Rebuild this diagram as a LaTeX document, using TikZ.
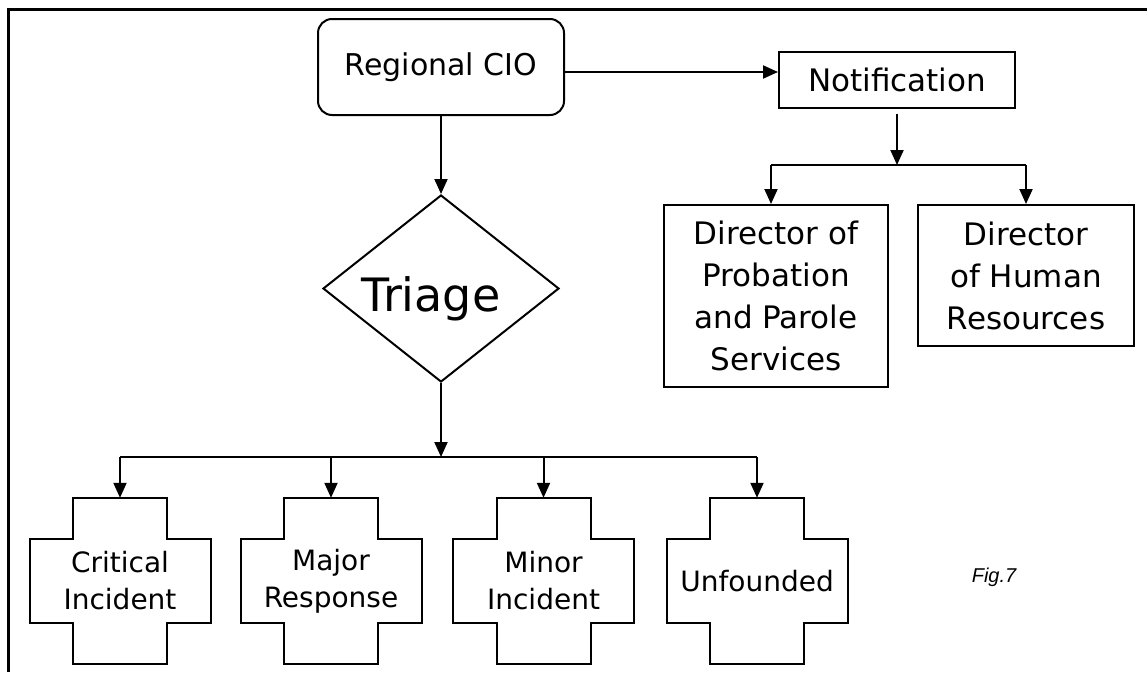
\documentclass[tikz,border=0pt]{standalone}
\usepackage{fontspec}
\setmainfont{DejaVu Sans}
\newfontfamily\captionfont{Liberation Sans}
\usetikzlibrary{shapes.geometric,arrows.meta}

\tikzset{
  box/.style={draw, line width=2pt, inner sep=0pt, align=center},
  arr/.style={line width=2pt, -{Triangle[length=15pt,width=13pt]}},
  link/.style={line width=2pt},
  crosstext/.style={inner sep=0pt, minimum width=181pt, minimum height=166pt,
    align=center, font=\fontsize{28}{37}\selectfont},
  outline/.style={line width=2pt, line join=miter},
}

\begin{document}
\begin{tikzpicture}[x=1pt,y=-1pt]
\useasboundingbox (0,0) rectangle (1147,672);

% page frame (top and left edges)
\draw[line width=3pt] (8,672) -- (8,9) -- (1147,9);

% upper boxes
\node[box, rounded corners=14pt, minimum width=246pt, minimum height=96pt,
      font=\fontsize{30}{36}\selectfont] (cio) at (441,67) {Regional CIO};
\node[box, minimum width=236pt, minimum height=56pt,
      font=\fontsize{31}{36}\selectfont] (notif) at (897,80) {Notification};
\node[box, minimum width=224pt, minimum height=182pt,
      font=\fontsize{31}{42}\selectfont] (dpp) at (776,296)
      {Director of\\Probation\\and Parole\\Services};
\node[box, minimum width=216pt, minimum height=141pt,
      font=\fontsize{31}{42}\selectfont] (dhr) at (1026,275.5)
      {Director\\of Human\\Resources};

% decision diamond
\node[draw, diamond, line width=2pt, minimum width=236pt, minimum height=187pt,
      inner sep=0pt] (triage) at (441,288.5) {};
\node[inner sep=0pt, font=\fontsize{46}{50}\selectfont] (triagetext) at (431,299) {Triage};

% outcome crosses
\node[crosstext] (c1) at (120,581) {Critical\\Incident};
\node[crosstext] (c2) at (331,581) {Major\\Response};
\node[crosstext] (c3) at (543.5,581) {Minor\\Incident};
\node[crosstext] (c4) at (757,581) {Unfounded};
\foreach \c in {c1,c2,c3,c4}{
  \draw[outline] ([shift={(-47,-83)}]\c.center) -- ++(94,0) -- ++(0,41)
    -- ++(43.5,0) -- ++(0,84) -- ++(-43.5,0) -- ++(0,41) -- ++(-94,0)
    -- ++(0,-41) -- ++(-43.5,0) -- ++(0,-84) -- ++(43.5,0) -- cycle;
}

% connectors
\coordinate (cioout) at ([yshift=-5pt]cio.east);
\draw[arr] (cioout) -- (cioout -| notif.west);
\draw[arr] (cio.south) -- (triage.north);

\coordinate (split) at (897,165);
\coordinate (dppin) at ([xshift=-5pt]dpp.north);
\draw[arr] ([yshift=-5pt]notif.south) -- (split);
\draw[link] (dppin |- split) -- (dhr.north |- split);
\draw[arr] (dppin |- split) -- (dppin);
\draw[arr] (dhr.north |- split) -- (dhr.north);

\coordinate (bus) at (441,457);
\draw[arr] (triage.south) -- (bus);
\draw[link] (c1.north |- bus) -- (c4.north |- bus);
\foreach \c in {c1,c2,c3,c4}{
  \draw[arr] (\c.north |- bus) -- (\c.north);
}

% caption
\node[inner sep=0pt, font=\captionfont\itshape\fontsize{20}{24}\selectfont] (fig) at (994,577) {Fig.7};
\end{tikzpicture}
\end{document}
